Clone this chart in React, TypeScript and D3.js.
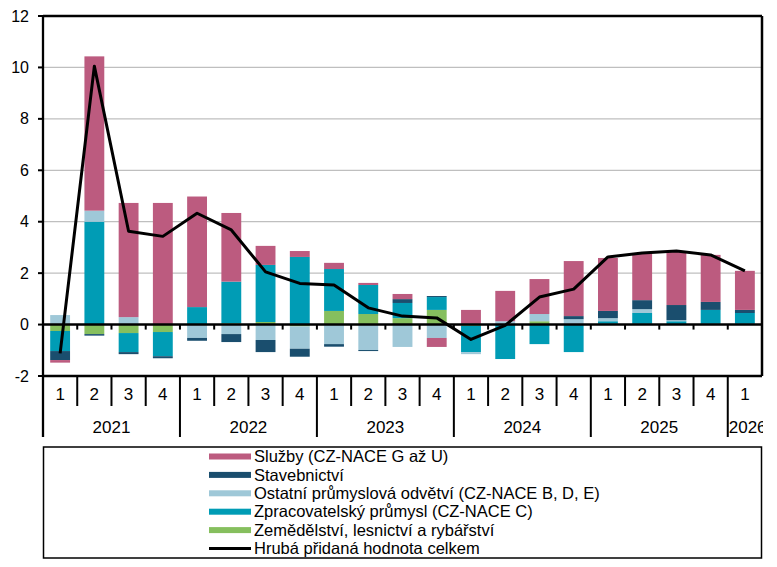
import React from 'react'
import * as d3 from 'd3'

// contributions to gross value added growth, percentage points
const quarters = ['1', '2', '3', '4', '1', '2', '3', '4', '1', '2', '3', '4', '1', '2', '3', '4', '1', '2', '3', '4', '1']
const years = ['2021', '2022', '2023', '2024', '2025', '2026']

const agriculture = [-0.25, -0.37, -0.33, -0.29, 0, 0.05, 0.1, -0.07, 0.53, 0.41, 0.25, 0.57, -0.05, 0, 0.13, 0, 0.03, 0.03, 0.02, 0.03, 0.03]
const manufacturing = [-0.78, 4.0, -0.74, -0.94, 0.68, 1.62, 2.22, 2.63, 1.63, 1.13, 0.59, 0.5, -1.02, -1.34, -0.76, -1.07, 0.1, 0.42, 0.11, 0.54, 0.42]
const otherIndustry = [0.37, 0.43, 0.29, 0, -0.52, -0.37, -0.6, -0.87, -0.76, -0.99, -0.87, -0.52, -0.08, 0.13, 0.28, 0.21, 0.12, 0.15, 0.04, 0, 0]
const construction = [-0.35, -0.06, -0.08, -0.08, -0.11, -0.31, -0.47, -0.31, -0.1, -0.04, 0.15, 0.04, 0, 0, 0, 0.12, 0.28, 0.35, 0.59, 0.31, 0.12]
const services = [-0.1, 6.0, 4.44, 4.73, 4.3, 2.67, 0.74, 0.23, 0.24, 0.08, 0.2, -0.35, 0.57, 1.18, 1.36, 2.14, 2.06, 1.83, 2.1, 1.83, 1.52]
const gvaTotal = [-1.12, 10.05, 3.63, 3.43, 4.33, 3.68, 2.05, 1.6, 1.54, 0.65, 0.33, 0.26, -0.58, -0.03, 1.07, 1.38, 2.63, 2.78, 2.86, 2.71, 2.09]

const yTicks = [-2, 0, 2, 4, 6, 8, 10, 12]

const series = [
  { key: 'agr', label: 'Zemědělství, lesnictví a rybářství', color: '#86BF5E', values: agriculture },
  { key: 'man', label: 'Zpracovatelský průmysl (CZ-NACE C)', color: '#009CB5', values: manufacturing },
  { key: 'oth', label: 'Ostatní průmyslová odvětví (CZ-NACE B, D, E)', color: '#9FC8D8', values: otherIndustry },
  { key: 'con', label: 'Stavebnictví', color: '#1A4E6E', values: construction },
  { key: 'srv', label: 'Služby (CZ-NACE G až U)', color: '#BC5B7F', values: services },
]

const font = '"Liberation Sans", Arial, sans-serif'

const App = () => {
  const width = 777
  const height = 567
  const left = 43
  const right = 762
  const top = 16
  const bottom = 376

  const ids = quarters.map((_, i) => i)
  const x = d3.scaleBand<number>().domain(ids).range([left, right]).paddingInner(0.42).paddingOuter(0.21)
  const y = d3.scaleLinear().domain([-2, 12]).range([bottom, top])
  const step = x.step()
  const edge = (i: number) => left + i * step

  const rows = ids.map((i) => {
    const r: Record<string, number> = { i }
    series.forEach((s) => (r[s.key] = s.values[i]))
    return r
  })
  const stacked = d3
    .stack<Record<string, number>>()
    .keys(series.map((s) => s.key))
    .offset(d3.stackOffsetDiverging)(rows)

  const line = d3
    .line<number>()
    .x((_, i) => (x(i) as number) + x.bandwidth() / 2)
    .y((d) => y(d))

  const legendItems = [...series].reverse()
  const legendY = (k: number) => 456.5 + k * 18.4

  return (
    <svg width={width} height={height} style={{ position: 'absolute', left: 0, top: 0 }} fontFamily={font}>
      <defs>
        <clipPath id='catClip'>
          <rect x={0} y={0} width={right + 1} height={height} />
        </clipPath>
      </defs>
      <rect width={width} height={height} fill='white' />

      {/* grid */}
      {yTicks
        .filter((t) => t > 0 && t < 12)
        .map((t) => (
          <line key={t} x1={left} x2={right} y1={y(t)} y2={y(t)} stroke='#BFBFBF' strokeWidth={1.2} />
        ))}

      {/* bars */}
      {stacked.map((layer, li) => (
        <g key={layer.key} fill={series[li].color}>
          {layer.map((d, i) => {
            const y0 = y(d[0])
            const y1 = y(d[1])
            if (Math.abs(y0 - y1) < 0.01) return null
            return <rect key={i} x={x(i)} width={x.bandwidth()} y={Math.min(y0, y1)} height={Math.abs(y0 - y1)} />
          })}
        </g>
      ))}

      {/* zero line with category ticks */}
      <line x1={left} x2={right} y1={y(0)} y2={y(0)} stroke='black' strokeWidth={2.5} />
      {ids.slice(1).map((i) => (
        <line key={i} x1={edge(i)} x2={edge(i)} y1={y(0)} y2={y(0) + 5} stroke='black' strokeWidth={2} />
      ))}

      {/* frame */}
      <line x1={left} x2={right} y1={top} y2={top} stroke='black' strokeWidth={2.5} />
      <line x1={right} x2={right} y1={top} y2={bottom} stroke='black' strokeWidth={2.5} />
      <line x1={left} x2={right} y1={bottom} y2={bottom} stroke='black' strokeWidth={2.5} />
      <line x1={left} x2={left} y1={top} y2={437} stroke='black' strokeWidth={2.3} />

      {/* y axis */}
      {yTicks.map((t) => (
        <g key={t}>
          <line x1={left - 5} x2={left} y1={y(t)} y2={y(t)} stroke='black' strokeWidth={2} />
          <text x={29} y={y(t)} dy='0.35em' textAnchor='end' fontSize={16}>
            {t}
          </text>
        </g>
      ))}

      {/* total line */}
      <path d={line(gvaTotal) ?? ''} fill='none' stroke='black' strokeWidth={3} strokeLinejoin='round' />

      {/* category axis */}
      {ids.map((i) => {
        const isYear = i % 4 === 0
        return (
          <line key={i} x1={edge(i)} x2={edge(i)} y1={bottom} y2={isYear ? 437 : 406} stroke='black' strokeWidth={2} />
        )
      })}
      {quarters.map((q, i) => (
        <text key={i} x={edge(i) + step / 2} y={394.5} dy='0.35em' textAnchor='middle' fontSize={17}>
          {q}
        </text>
      ))}
      <g clipPath='url(#catClip)'>
        {years.map((yr, k) => {
          const start = k * 4
          const end = Math.min(start + 4, quarters.length)
          const span = (end - start) * step
          const cx = edge(start) + span / 2
          const fits = span > 45
          return (
            <text
              key={yr}
              x={fits ? cx : edge(start) + 1}
              y={427}
              dy='0.35em'
              textAnchor={fits ? 'middle' : 'start'}
              fontSize={17}
            >
              {yr}
            </text>
          )
        })}
      </g>

      {/* legend */}
      <rect x={43.5} y={447} width={718} height={111} fill='white' stroke='black' strokeWidth={1.5} />
      {legendItems.map((s, k) => (
        <g key={s.key}>
          <rect x={209} y={legendY(k) - 3} width={42} height={6} fill={s.color} />
          <text x={254} y={legendY(k)} dy='0.35em' fontSize={16.5}>
            {s.label}
          </text>
        </g>
      ))}
      <line x1={209} x2={251} y1={legendY(5)} y2={legendY(5)} stroke='black' strokeWidth={3} />
      <text x={254} y={legendY(5)} dy='0.35em' fontSize={16.5}>
        Hrubá přidaná hodnota celkem
      </text>
    </svg>
  )
}

export default App
